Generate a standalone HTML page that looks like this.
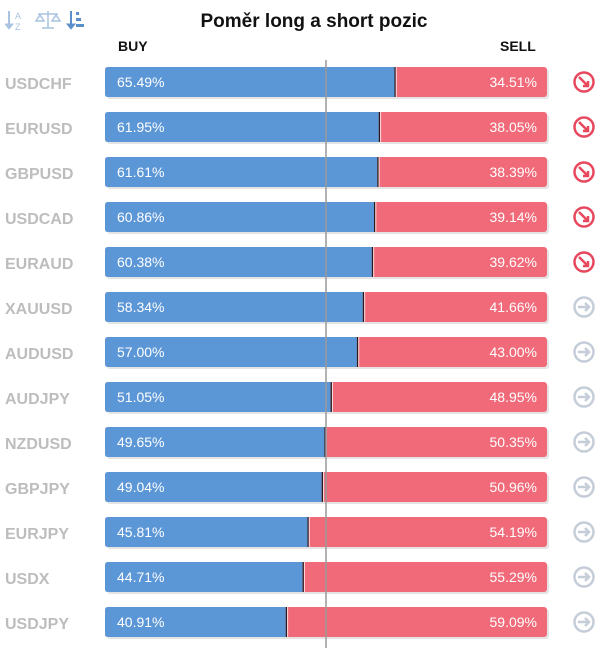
<!DOCTYPE html>
<html><head><meta charset="utf-8"><style>
body{margin:0;width:614px;height:665px;background:#fff;font-family:"Liberation Sans",sans-serif;position:relative;overflow:hidden}
.t{position:absolute}
</style></head><body>
<div class="t" style="left:0;width:628px;top:11px;text-align:center;font-weight:bold;font-size:19px;color:#111">Poměr long a short pozic</div>
<svg class="t" style="left:5px;top:8px" width="90" height="26">
<g fill="#a9c3e0" stroke="#a9c3e0"><line x1="4" y1="3" x2="4" y2="20" stroke-width="2"/><path d="M0 16 L4 21 L8 16Z"/><text x="10" y="11" font-size="9" stroke="none" font-family="Liberation Sans">A</text><text x="10" y="22" font-size="9" stroke="none" font-family="Liberation Sans">Z</text></g>
<g stroke="#a9c3e0" fill="none" stroke-width="1.5"><line x1="43" y1="3" x2="43" y2="20"/><line x1="33" y1="6" x2="53" y2="6"/><path d="M31 13 L35 7 L39 13Z M47 13 L51 7 L55 13Z"/><line x1="37" y1="20" x2="49" y2="20"/></g>
<g fill="#5b8fcb" stroke="#5b8fcb"><line x1="66" y1="3" x2="66" y2="20" stroke-width="2"/><path d="M62 16 L66 21 L70 16Z"/><rect x="71" y="4" width="3" height="3" stroke="none"/><rect x="71" y="10" width="5" height="3" stroke="none"/><rect x="71" y="16" width="8" height="3" stroke="none"/></g>
</svg>
<div class="t" style="left:118px;top:38px;font-size:14px;font-weight:bold;color:#111">BUY</div>
<div class="t" style="left:500px;top:38px;font-size:14px;font-weight:bold;color:#111">SELL</div>
<svg id="chart" class="t" style="left:0;top:0" width="614" height="665"></svg>
<script>
const symbols=["USDCHF","EURUSD","GBPUSD","USDCAD","EURAUD","XAUUSD","AUDUSD","AUDJPY","NZDUSD","GBPJPY","EURJPY","USDX","USDJPY"];
const buyValues=[65.49,61.95,61.61,60.86,60.38,58.34,57.00,51.05,49.65,49.04,45.81,44.71,40.91];
const sellValues=[34.51,38.05,38.39,39.14,39.62,41.66,43.00,48.95,50.35,50.96,54.19,55.29,59.09];
const signals=["down","down","down","down","down","neutral","neutral","neutral","neutral","neutral","neutral","neutral","neutral"];
const svg=document.getElementById('chart');const NS='http://www.w3.org/2000/svg';
const x0=105,W=442,y0=67,step=45,bh=30;
const xs=v=>x0+W*v/100, ys=i=>y0+i*step;
function mk(t,a){const e=document.createElementNS(NS,t);for(const k in a)e.setAttribute(k,a[k]);svg.appendChild(e);return e;}
symbols.forEach((s,i)=>{const y=ys(i),sx=xs(buyValues[i]);
let e=mk('text',{x:5,y:y+22,'font-size':16,'font-weight':'bold',fill:'#bdbdbd','font-family':'Liberation Sans'});e.textContent=s;


e=mk('rect',{x:x0+2,y:y+2,width:W,height:bh,rx:3,fill:'#e4e4e4'});


e=mk('rect',{x:x0,y:y,width:W,height:bh,rx:3,fill:'#f06a79'});


e=mk('path',{d:`M${x0+3} ${y}H${sx}V${y+bh}H${x0+3}Q${x0} ${y+bh} ${x0} ${y+bh-3}V${y+3}Q${x0} ${y} ${x0+3} ${y}Z`,fill:'#5b96d6'});


e=mk('rect',{x:sx,y:y,width:1.3,height:bh,fill:'#2a1a1a'});


e=mk('rect',{x:sx+1.3,y:y,width:1,height:bh,fill:'#fbe0e3'});


e=mk('text',{x:x0+12,y:y+20,'font-size':14,fill:'#fff','font-family':'Liberation Sans'});e.textContent=buyValues[i].toFixed(2)+'%';


e=mk('text',{x:x0+W-10,y:y+20,'font-size':14,fill:'#fff','text-anchor':'end','font-family':'Liberation Sans'});e.textContent=sellValues[i].toFixed(2)+'%';


const c=signals[i]==='down'?'#e8485e':'#c5cdd8',cy=y+15;
const g=mk('g',{stroke:c,fill:'none','stroke-width':2.5});


const ci=document.createElementNS(NS,'circle');ci.setAttribute('cx',584);ci.setAttribute('cy',cy);ci.setAttribute('r',9.5);g.appendChild(ci);
const p=document.createElementNS(NS,'path');
p.setAttribute('d',signals[i]==='down'?`M579 ${cy-5}L588 ${cy+4}M588 ${cy-1}V${cy+4}H583`:`M578 ${cy}H589M585 ${cy-4}L589 ${cy}L585 ${cy+4}`);g.appendChild(p);
});
const cl=mk('line',{x1:326,y1:60,x2:326,y2:648,stroke:'#999','stroke-width':1.5});


</script>
</body></html>
